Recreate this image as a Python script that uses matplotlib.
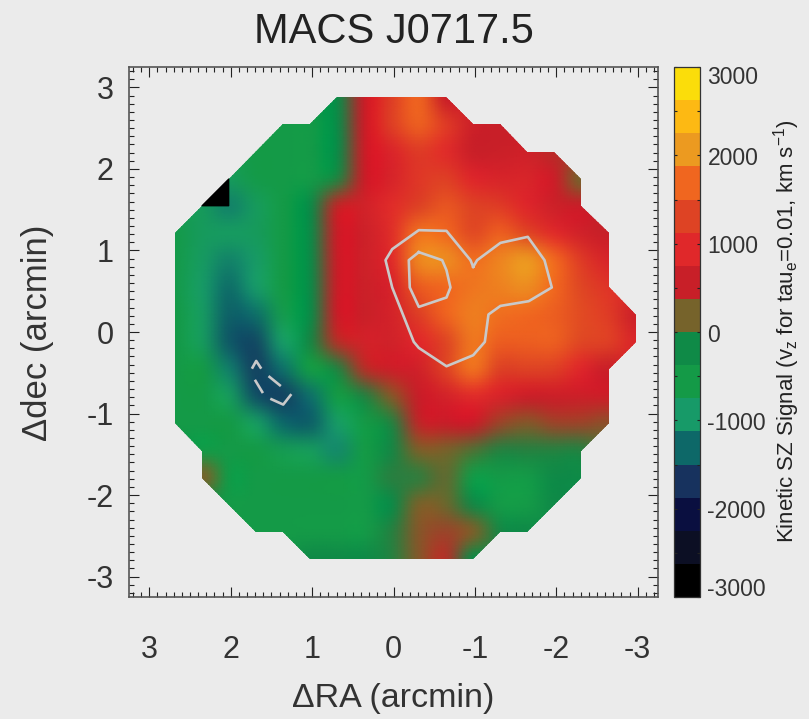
import numpy as np
import matplotlib
matplotlib.use('Agg')
import matplotlib.pyplot as plt
from matplotlib.colors import ListedColormap, BoundaryNorm, to_rgb
from matplotlib.cm import ScalarMappable
from matplotlib.patches import Polygon
from matplotlib.tri import Triangulation
from matplotlib.ticker import MultipleLocator

plt.rcParams['font.family'] = ['Liberation Sans', 'DejaVu Sans']
plt.rcParams['mathtext.fontset'] = 'custom'
plt.rcParams['mathtext.rm'] = 'Liberation Sans'
plt.rcParams['mathtext.default'] = 'regular'
plt.rcParams['axes.unicode_minus'] = False

# DATA
N = np.nan
ra_start = 2.69
dec_start = 2.88
step = 1/3
# rows go from north to south, columns from east to west
signal = [
 [N,N,N,N,N,N,-190,560,1250,1650,600,N,N,N,N,N,N,N],
 [N,N,N,N,-560,-560,-190,560,1250,1600,1200,650,560,N,N,N,N,N],
 [N,N,N,-560,-560,-560,-190,560,850,1200,1000,600,600,650,500,N,N,N],
 [N,N,-800,-600,-560,-560,-100,560,800,1150,1250,900,800,800,600,190,N,N],
 [N,-800,-1100,-800,-560,-190,500,700,1000,1300,1500,1300,1200,900,650,560,N,N],
 [-600,-800,-850,-800,-560,-190,560,650,1050,1750,1700,1400,1600,1350,1000,700,560,N],
 [-600,-850,-1100,-900,-560,-190,560,650,1000,1900,1950,1750,1900,2030,1700,1200,800,N],
 [-600,-900,-1250,-950,-560,-190,560,620,800,1550,1700,1800,1880,1950,1700,1350,1100,N],
 [-560,-850,-1350,-1250,-650,-190,560,600,750,1250,1650,1850,1750,1700,1600,1400,1200,650],
 [-560,-800,-1400,-1500,-900,-150,450,700,700,950,1350,1800,1600,1600,1600,1350,1250,850],
 [-560,-560,-1150,-1550,-1250,-560,-100,450,620,700,1300,1750,1300,1300,1250,900,600,N],
 [-560,-560,-800,-1450,-1550,-1250,-560,-100,250,560,750,1000,800,620,620,620,600,N],
 [-560,-560,-560,-850,-1300,-1350,-900,-560,-100,500,560,560,350,250,350,350,300,N],
 [N,-560,-560,-560,-700,-800,-1050,-560,-150,200,200,50,-100,-100,-100,-100,N,N],
 [N,190,-560,-560,-560,-560,-560,-560,-100,-50,100,-560,-560,-560,-190,-190,N,N],
 [N,N,-560,-560,-560,-560,-560,-560,-190,190,150,-150,-560,-560,-190,N,N,N],
 [N,N,N,-560,-560,-560,-560,-560,-100,250,350,200,-150,-190,N,N,N,N],
 [N,N,N,N,N,-190,-190,-190,-100,250,450,-190,N,N,N,N,N,N],
]
# (column,row) of the map outline and of the black corner
outline_nodes = [(0,5),(2,3),(4,1),(5,1),(6,0),(10,0),(11,1),(12,1),(13,2),(14,2),(15,3),(15,4),(16,5),(16,7),
                 (17,8),(17,9),(16,10),(16,12),(15,13),(15,14),(13,16),(12,16),(11,17),(5,17),(4,16),(3,16),
                 (1,14),(1,13),(0,12)]
black_nodes = [(2,3),(1,4),(2,4)]
black_value = -3000

contour_outer_ra = [-0.979,-1.028,-1.314,-1.650,-1.855,-1.945,-1.662,-1.314,-1.167,-1.122,-0.979,-0.651,-0.311,-0.249,0.016,0.098,0.016,-0.311,-0.651,-0.946,-0.979]
contour_outer_dec = [0.799,0.881,1.093,1.167,0.881,0.546,0.378,0.320,0.215,-0.121,-0.285,-0.420,-0.195,-0.121,0.546,0.881,1.016,1.249,1.240,0.881,0.799]
contour_inner_ra = [-0.311,-0.598,-0.651,-0.700,-0.651,-0.311,-0.200,-0.188,-0.311]
contour_inner_dec = [0.979,0.881,0.758,0.546,0.423,0.308,0.546,0.881,0.979]
# negative contour, one list per dash
contour_neg_ra = [[1.732,1.687,1.634],[1.523,1.397],[1.265,1.355,1.499],[1.613,1.695]]
contour_neg_dec = [[-0.436,-0.355,-0.436],[-0.551,-0.653],[-0.775,-0.890,-0.825],[-0.735,-0.600]]

level_colors = ['#000000','#0c0f24','#0a0f40','#17325e','#0d6868','#179a68','#149a47','#0f8a47',
                '#76632b','#c81f28','#e0282a','#de4324','#f0661f','#ec9a20','#fdb913','#fbdd0a']
levels = np.linspace(-3000,3000,17)
cbar_ticks = [-3000,-2500,-2000,-1500,-1000,-500,0,500,1000,1500,2000,2500,3000]
cbar_labels = [-3000,-2000,-1000,0,1000,2000,3000]
axis_ticks = [3,2,1,0,-1,-2,-3]

BG = '#ebebeb'
W = 809
H = 719
FINE = 8

cmap = ListedColormap(level_colors)
norm = BoundaryNorm(levels,cmap.N)


def fill_outside(z):
    # SPREAD THE NEAREST VALUES OUT OF THE MAP, THE OUTLINE CLIPS THEM LATER
    z = z.copy()
    while np.isnan(z).any():
        new = z.copy()
        for r,c in zip(*np.where(np.isnan(z))):
            near = z[max(r-1,0):r+2,max(c-1,0):c+2]
            if np.isfinite(near).any():
                new[r,c] = np.nanmean(near)
        z = new
    return z


def upsample(a,f,axis):
    # CATMULL-ROM SHADING BETWEEN THE NODES
    a = np.moveaxis(a,axis,0)
    n = a.shape[0]
    t = np.arange((n-1)*f+1)/f
    i = np.minimum(t.astype(int),n-2)
    u = (t-i).reshape((-1,)+(1,)*(a.ndim-1))
    p0 = a[np.maximum(i-1,0)]
    p1 = a[i]
    p2 = a[i+1]
    p3 = a[np.minimum(i+2,n-1)]
    out = 0.5*(2*p1+(p2-p0)*u+(2*p0-5*p1+4*p2-p3)*u**2+(3*p1-p0-3*p2+p3)*u**3)
    return np.moveaxis(out,0,axis)


fig = plt.figure(figsize=(W/100,H/100),dpi=100,facecolor=BG)
ax = fig.add_axes([129/W,1-597/H,529/W,530/H],facecolor=BG)

z = fill_outside(np.array(signal,dtype=float))
nrow,ncol = z.shape
# THE MAP BLENDS BETWEEN THE LEVEL COLOURS, ONLY THE BAR IS STEPPED
centers = (levels[:-1]+levels[1:])/2
level_rgb = np.array([to_rgb(c) for c in level_colors])
rgb = np.dstack([np.interp(z,centers,level_rgb[:,k]) for k in range(3)])
rgb = np.clip(upsample(upsample(rgb,FINE,0),FINE,1),0,1)
ra = ra_start-np.arange((ncol-1)*FINE+1)/FINE*step
dec = dec_start-np.arange((nrow-1)*FINE+1)/FINE*step
mesh = ax.pcolormesh(ra,dec,rgb,shading='gouraud')
mesh.set_clip_path(Polygon([(ra_start-c*step,dec_start-r*step) for c,r in outline_nodes],transform=ax.transData))

# THE BLACK CORNER
bx = [ra_start-c*step for c,r in black_nodes]
by = [dec_start-r*step for c,r in black_nodes]
ax.tripcolor(Triangulation(bx,by,[[0,1,2]]),[black_value]*3,shading='gouraud',cmap=cmap,norm=norm)

line_col = '#c9c9c9'
ax.plot(contour_outer_ra,contour_outer_dec,color=line_col,lw=1.9)
ax.plot(contour_inner_ra,contour_inner_dec,color=line_col,lw=1.9)
for xs,ys in zip(contour_neg_ra,contour_neg_dec):
    ax.plot(xs,ys,color=line_col,lw=1.9)

ax.set_xlim(3.25,-3.25)
ax.set_ylim(-3.25,3.25)
ax.set_xticks(axis_ticks)
ax.set_yticks(axis_ticks)
ax.xaxis.set_minor_locator(MultipleLocator(0.1))
ax.yaxis.set_minor_locator(MultipleLocator(0.1))
ax.tick_params(which='major',direction='in',top=True,right=True,length=7.5,width=0.8,color='#222222')
ax.tick_params(which='minor',direction='in',top=True,right=True,length=3.8,width=0.8,color='#222222')
ax.tick_params(axis='x',which='major',labelsize=22,labelcolor='#333333',pad=27)
ax.tick_params(axis='y',which='major',labelsize=22,labelcolor='#333333',pad=11)
for s in ax.spines.values():
    s.set_color('#555555')
    s.set_linewidth(1.2)

fig.text(393.5/W,1-32/H,'MACS J0717.5',fontsize=30,color='#222222',ha='center',va='center')
fig.text(393/W,1-698/H,'\u0394RA (arcmin)',fontsize=24.5,color='#333333',ha='center',va='center')
fig.text(38/W,1-333/H,'\u0394dec (arcmin)',fontsize=25,color='#333333',ha='center',va='center',rotation=90)

# COLORBAR
cax = fig.add_axes([674/W,1-597/H,25.5/W,530/H])
cb = fig.colorbar(ScalarMappable(norm=norm,cmap=cmap),cax=cax,spacing='proportional',drawedges=False)
cb.set_ticks(cbar_ticks)
cb.ax.minorticks_off()
cb.ax.set_yticklabels([])
cb.ax.tick_params(left=True,right=True,direction='in',length=2.2,width=0.8,color='#222222')
cb.outline.set_edgecolor('#333333')
cb.outline.set_linewidth(0.9)
for v in cbar_labels:
    # THE END LABELS SIT INSIDE THE BAR RANGE
    dy = -3
    if v==3000:
        dy = -11
    if v==-3000:
        dy = 7
    cb.ax.annotate(str(v),xy=(1,v),xycoords=cb.ax.get_yaxis_transform(),xytext=(8,dy),textcoords='offset pixels',
                   fontsize=16.5,color='#333333',ha='left',va='center')
fig.text(787/W,1-331/H,'Kinetic SZ Signal (v$_z$ for tau$_e$=0.01, km s$^{-1}$)',fontsize=16,color='#222222',
         ha='center',va='center',rotation=90)

plt.savefig('out.png',dpi=100,facecolor=BG)
